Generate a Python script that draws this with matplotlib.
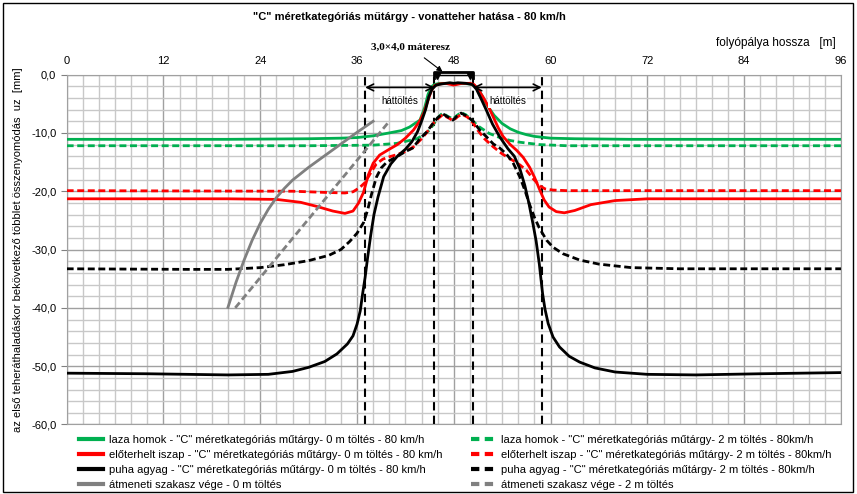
import matplotlib
matplotlib.use("Agg")
import matplotlib.pyplot as plt
from matplotlib.lines import Line2D
from matplotlib.patches import Rectangle
from matplotlib.ticker import MultipleLocator, FuncFormatter

plt.rcParams['font.family'] = ['Liberation Sans', 'DejaVu Sans']

# --- adatok: süllyedés [mm] a folyópálya hossza [m] mentén ---
x_hom0 = [0, 20, 30, 34, 36, 38, 40, 41.5, 42.5, 43.8, 44.4, 44.8, 45.2, 45.6, 46.2, 47, 48, 49, 50, 50.5,
          51, 51.5, 52, 52.5, 53, 54, 55, 56, 57, 58, 60, 63, 70, 96]
y_hom0 = [-11.1, -11.1, -11.0, -10.9, -10.8, -10.5, -10.0, -9.6, -9.0, -7.8, -5.6, -3.4, -2.1, -1.7, -1.5, -1.5,
          -1.5, -1.5, -1.6, -1.8, -2.5, -3.6, -4.9, -6.0, -7.0, -8.4, -9.3, -9.9, -10.3, -10.6, -10.9, -11.0,
          -11.1, -11.1]

x_hom2 = [0, 30, 38, 40.9, 42.5, 43.4, 44.3, 45, 45.5, 46, 46.6, 47.3, 47.9, 48.4, 48.9, 49.5, 50.2, 51.2,
          52.4, 53.7, 55, 56.2, 58.6, 62, 96]
y_hom2 = [-12.2, -12.2, -12.1, -11.8, -11.3, -11.0, -10.3, -9.5, -8.5, -7.4, -6.6, -7.2, -7.6, -7.0, -6.5,
          -6.9, -7.8, -9.0, -10.1, -10.8, -11.3, -11.6, -12.0, -12.2, -12.2]

x_isz0 = [0, 20, 26, 29, 31, 33, 34.5, 35.5, 36.2, 36.8, 37.4, 38, 38.8, 40, 41, 42, 43, 43.8, 44.3, 44.8,
          45.2, 45.6, 46.2, 47, 48, 49, 50, 50.5, 51, 51.6, 52.3, 52.9, 53.5, 54.1, 55, 55.8, 56.6, 57.4, 58,
          58.6, 59.2, 59.8, 60.7, 61.7, 63, 65, 68, 72, 96]
y_isz0 = [-21.3, -21.3, -21.4, -21.9, -22.6, -23.4, -23.8, -23.4, -22.0, -20.2, -17.2, -15.2, -13.8, -12.8,
          -12.0, -10.9, -9.5, -7.9, -6.5, -4.4, -2.8, -1.9, -1.6, -1.5, -1.8, -1.5, -1.5, -1.7, -2.5, -3.8,
          -5.5, -7.3, -9.1, -10.6, -12.0, -13.0, -14.2, -15.9, -17.6, -19.6, -21.5, -22.7, -23.5, -23.7,
          -23.3, -22.3, -21.6, -21.3, -21.3]

x_isz2 = [0, 28, 32, 34.5, 35.5, 36.3, 37, 37.8, 38.4, 39.2, 40, 41, 42, 43, 44, 44.6, 45.3, 46, 46.6, 47.3,
          47.9, 48.5, 49, 49.7, 50.4, 51, 51.8, 52.9, 54, 55.3, 56.2, 57, 57.8, 58.6, 59.3, 60.3, 62, 96]
y_isz2 = [-19.9, -20.0, -20.2, -20.3, -20.1, -19.4, -18.5, -16.6, -15.3, -14.5, -14.1, -13.7, -13.2, -12.4,
          -11.0, -10.0, -8.6, -7.6, -6.9, -7.4, -7.9, -7.2, -6.8, -7.3, -8.3, -9.6, -11.0, -12.4, -13.6,
          -14.7, -15.5, -16.4, -17.8, -19.0, -19.6, -19.8, -19.9, -19.9]

x_agy0 = [0, 10, 20, 25, 28, 30, 32, 33.5, 34.8, 35.5, 36, 36.4, 36.7, 37, 37.3, 37.7, 38.1, 38.6, 39.3,
          40.2, 41, 42, 42.8, 43.5, 44, 44.5, 44.9, 45.3, 45.8, 46.5, 47.5, 48, 48.5, 49.5, 50.3, 50.8, 51.4,
          52, 52.8, 53.7, 54.7, 55.5, 56.2, 56.8, 57.3, 57.8, 58.2, 58.6, 59, 59.3, 59.7, 60.3, 61.1, 62.3,
          63.6, 65.5, 68, 72, 78, 86, 96]
y_agy0 = [-51.2, -51.3, -51.5, -51.4, -50.9, -50.2, -49.2, -47.9, -46.2, -44.8, -42.8, -40.5, -37.5, -34.8,
          -31.5, -27.5, -24.0, -21.0, -17.5, -15.3, -14.0, -12.8, -11.5, -9.8, -8.0, -6.0, -3.8, -2.5, -1.8,
          -1.6, -1.4, -1.5, -1.4, -1.5, -1.7, -2.5, -4.2, -6.0, -8.5, -10.7, -12.7, -14.0, -16.2, -19.0,
          -22.0, -25.5, -28.5, -32.5, -37.5, -40.2, -42.7, -45.0, -46.7, -48.3, -49.3, -50.3, -51.0, -51.4,
          -51.5, -51.3, -51.1]

x_agy2 = [0, 15, 20, 24, 27, 30, 32.5, 34, 35.1, 36, 36.8, 37.3, 37.8, 38.4, 39, 39.7, 40.9, 42, 42.9, 43.8,
          44.6, 45.4, 46, 46.6, 47.3, 47.9, 48.4, 48.9, 49.6, 50.4, 51.2, 52, 52.9, 53.7, 54.5, 55.3, 56.2,
          56.8, 57.4, 58, 58.6, 59.5, 60.3, 61.5, 63.6, 66, 70, 76, 96]
y_agy2 = [-33.3, -33.4, -33.4, -33.1, -32.6, -31.9, -31.0, -30.0, -28.6, -27.2, -25.4, -23.3, -20.5, -17.6,
          -16.0, -15.0, -14.1, -13.2, -12.6, -11.0, -9.9, -8.4, -7.4, -6.7, -7.3, -7.8, -7.1, -6.6, -7.1,
          -8.0, -9.5, -10.6, -11.9, -12.6, -13.6, -15.0, -17.6, -19.8, -22.3, -24.5, -26.3, -28.4, -29.6,
          -30.7, -31.8, -32.5, -33.1, -33.3, -33.3]

x_atm0 = [20, 21, 22, 23, 24, 25, 26, 27, 28, 30, 32, 34, 36, 38]
y_atm0 = [-39.9, -35.6, -31.8, -28.4, -25.5, -23.1, -21.1, -19.5, -18.1, -15.9, -13.9, -11.9, -9.9, -8.0]

x_atm2 = [20.9, 40.0]
y_atm2 = [-40.0, -8.0]

# háttöltés határai és a műtárgy falai
hatarok = [37.0, 45.6, 50.4, 58.9]
hattoltes_y = -2.2

felirat_0 = ' - "C" méretkategóriás műtárgy- 0 m töltés - 80 km/h'
felirat_2 = ' - "C" méretkategóriás műtárgy- 2 m töltés - 80km/h'

ZOLD = '#00b050'
PIROS = '#ff0000'
FEKETE = '#000000'
SZURKE = '#808080'
SZAGG = (0, (2.5, 1.3))

fig = plt.figure(figsize=(8.57, 4.94), dpi=100)
ax = fig.add_axes([0.0778, 0.1407, 0.9035, 0.7083])

ax.set_xlim(0, 96)
ax.set_ylim(-60, 0)

# rács: 2 m / 2 mm
ax.xaxis.set_major_locator(MultipleLocator(12))
ax.xaxis.set_minor_locator(MultipleLocator(2))
ax.yaxis.set_major_locator(MultipleLocator(10))
ax.yaxis.set_minor_locator(MultipleLocator(2))
ax.grid(True, which='minor', color='#c8c8c8', lw=1.0, zorder=0)
ax.grid(True, which='major', color='#a0a0a0', lw=1.0, zorder=0)
ax.set_axisbelow(True)

ax.xaxis.tick_top()
ax.tick_params(axis='x', which='both', length=0, labelsize=8, pad=6)
ax.tick_params(axis='y', which='major', length=4, color='#808080', labelsize=8)
ax.tick_params(axis='y', which='minor', length=0)
ax.yaxis.set_major_formatter(FuncFormatter(lambda v, p: f'{v:.1f}'.replace('.', ',')))
for s in ax.spines.values():
    s.set_color('#a0a0a0')

lw = 2.0
ax.plot(x_hom0, y_hom0, color=ZOLD, lw=lw, zorder=3)
ax.plot(x_hom2, y_hom2, color=ZOLD, lw=lw, ls=SZAGG, zorder=3)
ax.plot(x_isz0, y_isz0, color=PIROS, lw=lw, zorder=3)
ax.plot(x_isz2, y_isz2, color=PIROS, lw=lw, ls=SZAGG, zorder=3)
ax.plot(x_agy0, y_agy0, color=FEKETE, lw=lw, zorder=3)
ax.plot(x_agy2, y_agy2, color=FEKETE, lw=lw, ls=SZAGG, zorder=3)
ax.plot(x_atm0, y_atm0, color=SZURKE, lw=lw, zorder=3)
ax.plot(x_atm2, y_atm2, color=SZURKE, lw=lw, ls=SZAGG, zorder=3)

for h in hatarok:
    ax.axvline(h, color='black', lw=1.5, ls=(0, (4, 2.5)), zorder=2)

# háttöltés nyilak
for a, b in [(hatarok[0], hatarok[1]), (hatarok[2], hatarok[3])]:
    ax.annotate('', xy=(a, hattoltes_y), xytext=(b, hattoltes_y),
                arrowprops=dict(arrowstyle='<->', color='black', lw=1.2,
                                shrinkA=0, shrinkB=0, mutation_scale=12), zorder=4)
    ax.text((a + b) / 2, -4.6, 'háttöltés', fontsize=7, ha='center', va='center',
            bbox=dict(facecolor='white', edgecolor='none', pad=1), zorder=4)

# műtárgy vázlata a tengely tetején
ax.plot([hatarok[1], hatarok[1], hatarok[2], hatarok[2]], [-0.6, 0.5, 0.5, -0.6],
        color='black', lw=2, clip_on=False, zorder=5)
ax.plot([hatarok[1] + 0.7, hatarok[2] - 0.7], [-0.1, -0.1], color='black', lw=1, clip_on=False, zorder=5)
ax.plot([hatarok[1] + 0.35, hatarok[2] - 0.35], [-0.25, -0.25], marker='v', ls='none', ms=4,
        color='black', clip_on=False, zorder=5)

ax.annotate('3,0×4,0 máteresz', xy=(46.6, 0.5), xytext=(42.6, 4.7),
            fontsize=8, fontweight='bold', family='Liberation Serif', ha='center', va='center',
            arrowprops=dict(arrowstyle='-|>', color='black', lw=0.8, mutation_scale=8,
                            shrinkA=4, shrinkB=0),
            annotation_clip=False)

fig.text(0.478, 0.965, '"C" méretkategóriás műtárgy - vonatteher hatása - 80 km/h',
         fontsize=8, fontweight='bold', ha='center', va='center')
fig.text(0.975, 0.913, 'folyópálya hossza   [m]', fontsize=8.5, ha='right', va='center')
fig.text(0.021, 0.495, 'az első teheráthaladáskor bekövetkező többlet összenyomódás  uz  [mm]',
         fontsize=8, rotation=90, ha='center', va='center')

kezelok = [
    Line2D([], [], color=ZOLD, lw=3), Line2D([], [], color=PIROS, lw=3),
    Line2D([], [], color=FEKETE, lw=3), Line2D([], [], color=SZURKE, lw=3),
    Line2D([], [], color=ZOLD, lw=3, ls=(0, (2, 1.3))), Line2D([], [], color=PIROS, lw=3, ls=(0, (2, 1.3))),
    Line2D([], [], color=FEKETE, lw=3, ls=(0, (2, 1.3))), Line2D([], [], color=SZURKE, lw=3, ls=(0, (2, 1.3))),
]
cimkek = [
    'laza homok' + felirat_0,
    'előterhelt iszap' + felirat_0,
    'puha agyag' + felirat_0,
    'átmeneti szakasz vége - 0 m töltés',
    'laza homok' + felirat_2,
    'előterhelt iszap' + felirat_2,
    'puha agyag' + felirat_2,
    'átmeneti szakasz vége - 2 m töltés',
]
fig.legend(kezelok, cimkek, ncol=2, loc='lower left', bbox_to_anchor=(79 / 857, 0.008),
           frameon=False, fontsize=8, handlelength=2.2, handletextpad=0.5,
           columnspacing=2.6, labelspacing=0.45, borderpad=0, borderaxespad=0)

fig.add_artist(Rectangle((0.003, 0.004), 0.992, 0.99, transform=fig.transFigure,
                         fill=False, edgecolor='black', lw=1))

fig.savefig('out.png', dpi=100)
